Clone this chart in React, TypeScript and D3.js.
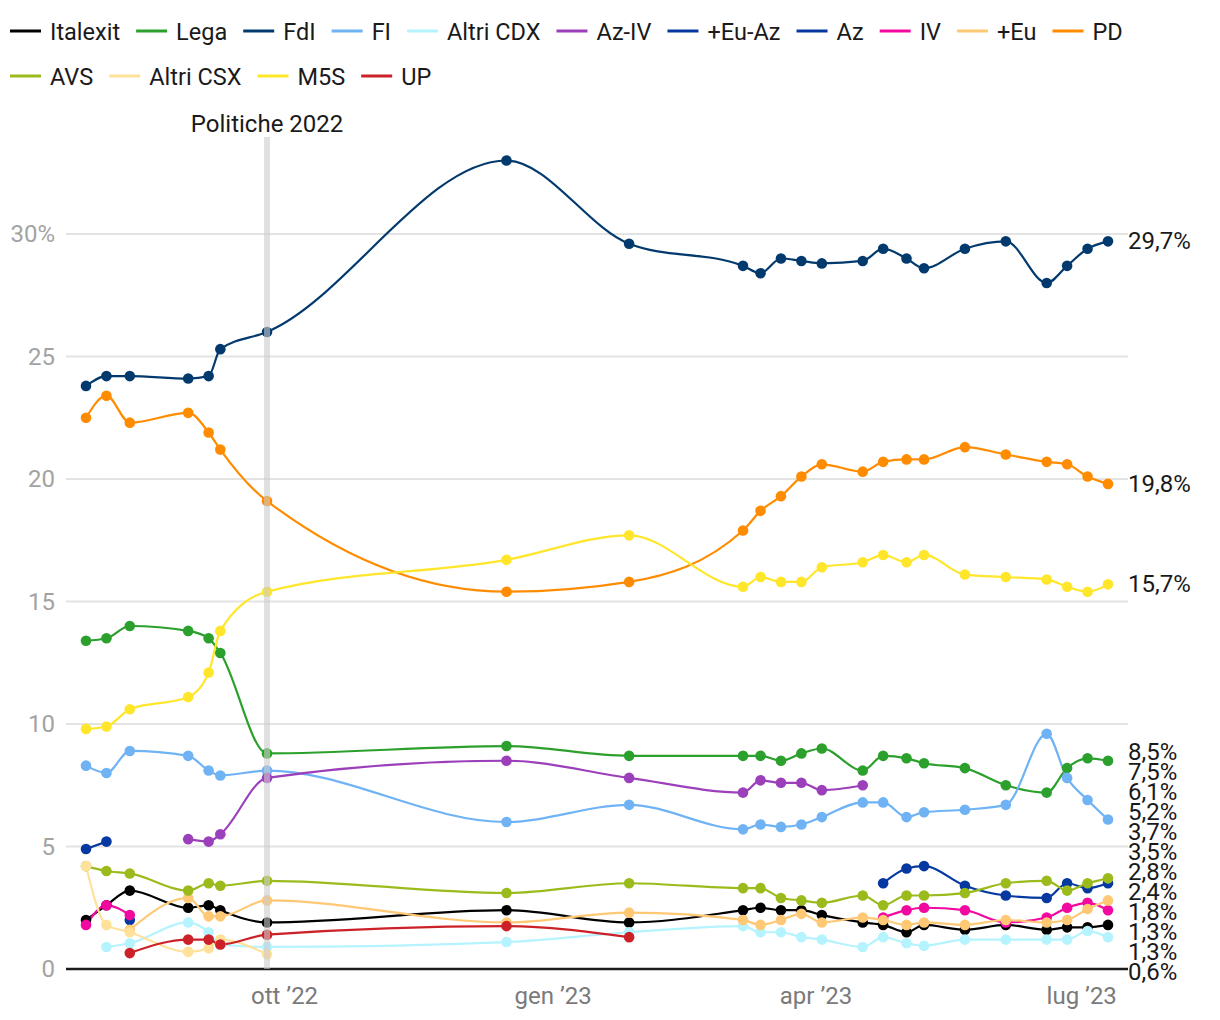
import React, { useRef, useEffect } from 'react';
import * as d3 from 'd3';

type Series = {
  name: string;
  color: string;
  values: (number | null)[];
};

const N = null;

const dates = [
  '2022-07-25', '2022-08-01', '2022-08-09', '2022-08-29', '2022-09-05', '2022-09-09',
  '2022-09-25', '2022-12-16', '2023-01-27', '2023-03-07', '2023-03-13', '2023-03-20',
  '2023-03-27', '2023-04-03', '2023-04-17', '2023-04-24', '2023-05-02', '2023-05-08',
  '2023-05-22', '2023-06-05', '2023-06-19', '2023-06-26', '2023-07-03', '2023-07-10',
];

const italexit = [2.0, 2.6, 3.2, 2.5, 2.6, 2.4, 1.9, 2.4, 1.9, 2.4, 2.5, 2.4, 2.4, 2.2, 1.9, 1.8, 1.5, 1.8, 1.6, 1.8, 1.6, 1.7, 1.7, 1.8];
const lega = [13.4, 13.5, 14.0, 13.8, 13.5, 12.9, 8.8, 9.1, 8.7, 8.7, 8.7, 8.5, 8.8, 9.0, 8.1, 8.7, 8.6, 8.4, 8.2, 7.5, 7.2, 8.2, 8.6, 8.5];
const fdi = [23.8, 24.2, 24.2, 24.1, 24.2, 25.3, 26.0, 33.0, 29.6, 28.7, 28.4, 29.0, 28.9, 28.8, 28.9, 29.4, 29.0, 28.6, 29.4, 29.7, 28.0, 28.7, 29.4, 29.7];
const fi = [8.3, 8.0, 8.9, 8.7, 8.1, 7.9, 8.1, 6.0, 6.7, 5.7, 5.9, 5.8, 5.9, 6.2, 6.8, 6.8, 6.2, 6.4, 6.5, 6.7, 9.6, 7.8, 6.9, 6.1];
const altriCdx = [N, 0.9, 1.05, 1.9, 1.5, 1.0, 0.9, 1.1, 1.5, 1.75, 1.5, 1.5, 1.3, 1.2, 0.9, 1.3, 1.05, 0.95, 1.2, 1.2, 1.2, 1.2, 1.55, 1.3];
const azIv = [N, N, N, 5.3, 5.2, 5.5, 7.8, 8.5, 7.8, 7.2, 7.7, 7.6, 7.6, 7.3, 7.5, N, N, N, N, N, N, N, N, N];
const euAz = [4.9, 5.2, N, N, N, N, N, N, N, N, N, N, N, N, N, N, N, N, N, N, N, N, N, N];
const az = [N, N, 2.0, N, N, N, N, N, N, N, N, N, N, N, N, 3.5, 4.1, 4.2, 3.4, 3.0, 2.9, 3.5, 3.3, 3.5];
const iv = [1.8, 2.6, 2.2, N, N, N, N, N, N, N, N, N, N, N, N, 2.1, 2.4, 2.5, 2.4, 1.9, 2.1, 2.5, 2.7, 2.4];
const piuEu = [N, N, 1.6, 2.9, 2.15, 2.15, 2.8, 1.9, 2.3, 2.0, 1.8, 2.0, 2.25, 1.9, 2.1, 2.0, 1.8, 1.9, 1.8, 2.0, 1.9, 2.0, 2.45, 2.8];
const pd = [22.5, 23.4, 22.3, 22.7, 21.9, 21.2, 19.1, 15.4, 15.8, 17.9, 18.7, 19.3, 20.1, 20.6, 20.3, 20.7, 20.8, 20.8, 21.3, 21.0, 20.7, 20.6, 20.1, 19.8];
const avs = [4.2, 4.0, 3.9, 3.2, 3.5, 3.4, 3.6, 3.1, 3.5, 3.3, 3.3, 2.9, 2.8, 2.7, 3.0, 2.6, 3.0, 3.0, 3.1, 3.5, 3.6, 3.2, 3.5, 3.7];
const altriCsx = [4.2, 1.8, 1.5, 0.7, 0.85, 1.2, 0.6, N, N, N, N, N, N, N, N, N, N, N, N, N, N, N, N, N];
const m5s = [9.8, 9.9, 10.6, 11.1, 12.1, 13.8, 15.4, 16.7, 17.7, 15.6, 16.0, 15.8, 15.8, 16.4, 16.6, 16.9, 16.6, 16.9, 16.1, 16.0, 15.9, 15.6, 15.4, 15.7];
const up = [N, N, 0.65, 1.2, 1.2, 1.0, 1.4, 1.75, 1.3, N, N, N, N, N, N, N, N, N, N, N, N, N, N, N];

const series: Series[] = [
  { name: 'Italexit', color: '#000000', values: italexit },
  { name: 'Lega', color: '#2ca02c', values: lega },
  { name: 'FdI', color: '#033a6e', values: fdi },
  { name: 'FI', color: '#6fb3f5', values: fi },
  { name: 'Altri CDX', color: '#b5f3ff', values: altriCdx },
  { name: 'Az-IV', color: '#9c3fbb', values: azIv },
  { name: '+Eu-Az', color: '#0538a0', values: euAz },
  { name: 'Az', color: '#0538a0', values: az },
  { name: 'IV', color: '#f209a0', values: iv },
  { name: '+Eu', color: '#ffc875', values: piuEu },
  { name: 'PD', color: '#ff8c00', values: pd },
  { name: 'AVS', color: '#9bbb1c', values: avs },
  { name: 'Altri CSX', color: '#ffe19a', values: altriCsx },
  { name: 'M5S', color: '#ffe62b', values: m5s },
  { name: 'UP', color: '#cc2128', values: up },
];

const yTicks = [0, 5, 10, 15, 20, 25, 30];
const xTicks = ['2022-10-01', '2023-01-01', '2023-04-01', '2023-07-01'];
const xTickLabels = ['ott ’22', 'gen ’23', 'apr ’23', 'lug ’23'];
const eventDate = '2022-09-25';
const eventLabel = 'Politiche 2022';

const WIDTH = 1220;
const HEIGHT = 1020;
const FONT = 'Roboto, "Noto Sans", sans-serif';
const FS = 24;

const App: React.FC = () => {
  const svgRef = useRef<SVGSVGElement | null>(null);

  useEffect(() => {
    if (!svgRef.current) return;
    const svg = d3.select(svgRef.current);
    svg.selectAll('*').remove();

    const parse = d3.timeParse('%Y-%m-%d');
    const xs = dates.map(d => parse(d)!);

    const gridLeft = 66;
    const gridRight = 1128;

    const x = d3.scaleTime()
      .domain(d3.extent(xs) as [Date, Date])
      .range([86, 1108]);

    const y = d3.scaleLinear()
      .domain([0, 30])
      .range([969, 234]);

    // Legend
    const legend = svg.append('g').attr('font-family', FONT).attr('font-size', 23.5);
    let lx = 10;
    let ly = 31;
    series.forEach(s => {
      const item = legend.append('g');
      item.append('line')
        .attr('x1', 0).attr('x2', 31)
        .attr('y1', 0).attr('y2', 0)
        .attr('stroke', s.color)
        .attr('stroke-width', 3);
      const t = item.append('text')
        .attr('x', 40)
        .attr('y', 9)
        .attr('fill', '#1a1a1a')
        .text(s.name);
      const w = 40 + (t.node() as SVGTextElement).getComputedTextLength();
      if (lx + w > WIDTH - 8) {
        lx = 10;
        ly += 45;
      }
      item.attr('transform', `translate(${lx},${ly})`);
      lx += w + 16;
    });

    // Grid
    svg.append('g')
      .selectAll('line')
      .data(yTicks.filter(t => t > 0))
      .join('line')
      .attr('x1', gridLeft).attr('x2', gridRight)
      .attr('y1', d => y(d)).attr('y2', d => y(d))
      .attr('stroke', '#e3e3e3')
      .attr('stroke-width', 2);

    svg.append('g')
      .attr('font-family', FONT)
      .attr('font-size', FS)
      .attr('fill', '#a3a3a3')
      .attr('text-anchor', 'end')
      .selectAll('text')
      .data(yTicks)
      .join('text')
      .attr('x', 55)
      .attr('y', d => y(d) + 8)
      .text(d => (d === 30 ? `${d}%` : `${d}`));

    // Baseline
    svg.append('line')
      .attr('x1', gridLeft).attr('x2', gridRight)
      .attr('y1', y(0)).attr('y2', y(0))
      .attr('stroke', '#1a1a1a')
      .attr('stroke-width', 2.5);

    // X ticks
    svg.append('g')
      .attr('font-family', FONT)
      .attr('font-size', FS)
      .attr('fill', '#7a7a7a')
      .attr('text-anchor', 'middle')
      .selectAll('text')
      .data(xTicks)
      .join('text')
      .attr('x', d => x(parse(d)!))
      .attr('y', 1004)
      .text((_, i) => xTickLabels[i]);

    // Lines
    const line = d3.line<number | null>()
      .defined(v => v != null)
      .x((_, i) => x(xs[i]))
      .y(v => y(v as number))
      .curve(d3.curveMonotoneX);

    const linesG = svg.append('g');
    series.forEach(s => {
      linesG.append('path')
        .attr('d', line(s.values))
        .attr('fill', 'none')
        .attr('stroke', s.color)
        .attr('stroke-width', 2.2)
        .attr('stroke-linejoin', 'round');
    });

    const dotsG = svg.append('g');
    series.forEach(s => {
      dotsG.append('g')
        .selectAll('circle')
        .data(s.values.map((v, i) => ({ v, i })).filter(d => d.v != null))
        .join('circle')
        .attr('cx', d => x(xs[d.i]))
        .attr('cy', d => y(d.v as number))
        .attr('r', 5.3)
        .attr('fill', s.color);
    });

    // Event band
    const ex = x(parse(eventDate)!);
    svg.append('rect')
      .attr('x', ex - 3)
      .attr('width', 6)
      .attr('y', 137)
      .attr('height', y(0) - 137)
      .attr('fill', '#cccccc')
      .attr('opacity', 0.6);

    svg.append('text')
      .attr('x', ex)
      .attr('y', 132)
      .attr('text-anchor', 'middle')
      .attr('font-family', FONT)
      .attr('font-size', FS)
      .attr('fill', '#1a1a1a')
      .text(eventLabel);

    // End labels, spread to avoid overlap
    const labels = series.map(s => {
      const last = [...s.values].reverse().find(v => v != null) as number;
      return { value: last, pos: y(last) };
    }).sort((a, b) => b.value - a.value);

    const gap = 20;
    const maxPos = 972;
    for (let iter = 0; iter < 500; iter++) {
      for (let i = 0; i < labels.length - 1; i++) {
        const a = labels[i];
        const b = labels[i + 1];
        const d = b.pos - a.pos;
        if (d < gap) {
          const push = (gap - d) / 2;
          a.pos -= push;
          b.pos += push;
        }
      }
      const lastL = labels[labels.length - 1];
      if (lastL.pos > maxPos) lastL.pos = maxPos;
    }

    svg.append('g')
      .attr('font-family', FONT)
      .attr('font-size', FS)
      .attr('fill', '#1a1a1a')
      .selectAll('text')
      .data(labels)
      .join('text')
      .attr('x', 1128)
      .attr('y', d => d.pos + 8)
      .text(d => `${d3.format('.1f')(d.value).replace('.', ',')}%`);
  }, []);

  return (
    <svg
      ref={svgRef}
      width={WIDTH}
      height={HEIGHT}
      style={{ position: 'absolute', left: 0, top: 0, background: '#fff' }}
    />
  );
};

export default App;
